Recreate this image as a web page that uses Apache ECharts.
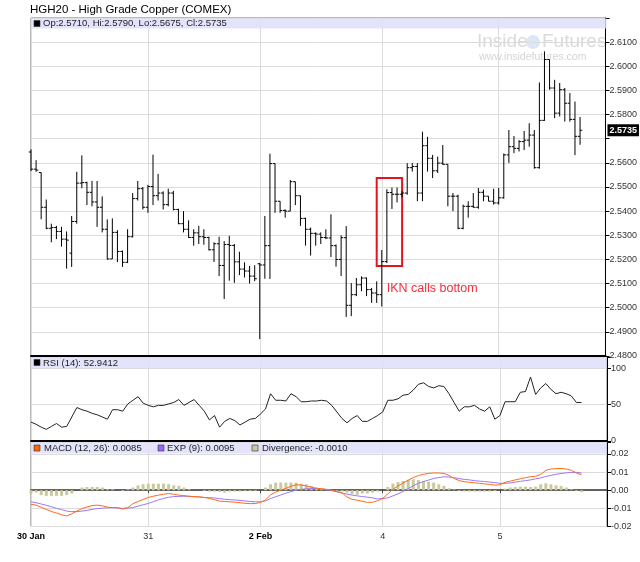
<!DOCTYPE html>
<html><head><meta charset="utf-8">
<script src="https://cdn.jsdelivr.net/npm/echarts@6/dist/echarts.min.js"></script>
<style>html,body{margin:0;padding:0;background:#fff}#c{width:640px;height:562px}</style>
</head><body><div id="c"></div>
<script>
const title = 'HGH20 - High Grade Copper (COMEX)';
const slotCount = 114;
const dayTicks = [[0,'30 Jan',true],[23,'31',false],[45,'2 Feb',true],[69,'4',false],[92,'5',false]];

const opens = [2.5645,2.5574,2.5560,2.5416,2.5329,2.5332,2.5316,2.5284,2.5226,2.5357,
2.5516,2.5518,2.5478,2.5438,2.5416,2.5325,2.5202,2.5312,2.5233,2.5188,
2.5294,2.5452,2.5493,2.5416,2.5502,2.5464,2.5475,2.5427,2.5475,2.5407,
2.5348,2.5325,2.5291,2.5310,2.5294,2.5291,2.5240,2.5265,2.5175,2.5262,
2.5258,2.5190,2.5160,2.5152,2.5131,2.5182,2.5177,2.5257,2.5597,2.5441,
2.5403,2.5400,2.5522,2.5464,2.5370,2.5325,2.5308,2.5305,2.5291,2.5289,
2.5257,2.5200,2.5290,2.5010,2.5054,2.5095,2.5123,2.5075,2.5061,2.5054,
2.5191,2.5477,2.5470,2.5470,2.5475,2.5580,2.5585,2.5475,2.5671,2.5619,
2.5567,2.5599,2.5594,2.5462,2.5462,2.5329,2.5420,2.5420,2.5416,2.5478,
2.5462,2.5441,2.5434,2.5455,2.5633,2.5667,2.5660,2.5688,2.5694,2.5715,
2.5580,2.5776,2.6028,2.5910,2.5806,2.5903,2.5847,2.5780,2.5710];
const highs = [2.5656,2.5611,2.5560,2.5448,2.5348,2.5339,2.5335,2.5316,2.5380,2.5563,
2.5631,2.5522,2.5525,2.5525,2.5461,2.5366,2.5370,2.5321,2.5237,2.5325,
2.5475,2.5525,2.5500,2.5509,2.5634,2.5554,2.5482,2.5493,2.5484,2.5410,
2.5400,2.5362,2.5325,2.5339,2.5325,2.5294,2.5271,2.5294,2.5276,2.5298,
2.5264,2.5232,2.5188,2.5173,2.5176,2.5186,2.5380,2.5638,2.5597,2.5441,
2.5407,2.5529,2.5522,2.5464,2.5373,2.5332,2.5312,2.5312,2.5325,2.5387,
2.5262,2.5300,2.5338,2.5102,2.5123,2.5130,2.5125,2.5082,2.5109,2.5239,
2.5491,2.5498,2.5498,2.5484,2.5599,2.5599,2.5599,2.5729,2.5708,2.5633,
2.5626,2.5674,2.5594,2.5475,2.5468,2.5427,2.5441,2.5475,2.5496,2.5489,
2.5462,2.5493,2.5496,2.5639,2.5736,2.5711,2.5694,2.5732,2.5764,2.5736,
2.5933,2.6062,2.6028,2.5944,2.5931,2.5910,2.5889,2.5854,2.5790];
const lows = [2.5566,2.5563,2.5366,2.5325,2.5271,2.5284,2.5253,2.5162,2.5169,2.5348,
2.5495,2.5425,2.5420,2.5335,2.5312,2.5199,2.5202,2.5189,2.5169,2.5185,
2.5291,2.5444,2.5407,2.5393,2.5425,2.5444,2.5407,2.5420,2.5403,2.5346,
2.5312,2.5289,2.5257,2.5264,2.5261,2.5237,2.5189,2.5131,2.5036,2.5112,
2.5103,2.5135,2.5125,2.5100,2.5110,2.4870,2.5120,2.5119,2.5393,2.5393,
2.5373,2.5400,2.5425,2.5339,2.5257,2.5216,2.5257,2.5264,2.5284,2.5210,
2.5170,2.5131,2.4962,2.4965,2.5048,2.5068,2.5048,2.5020,2.5020,2.5005,
2.5185,2.5409,2.5436,2.5457,2.5468,2.5564,2.5441,2.5441,2.5564,2.5537,
2.5558,2.5592,2.5420,2.5400,2.5325,2.5325,2.5373,2.5414,2.5410,2.5441,
2.5441,2.5427,2.5427,2.5452,2.5600,2.5640,2.5647,2.5653,2.5667,2.5576,
2.5576,2.5774,2.5903,2.5785,2.5792,2.5771,2.5771,2.5632,2.5675];
const closes = [2.5574,2.5570,2.5416,2.5329,2.5332,2.5316,2.5284,2.5280,2.5357,2.5516,
2.5518,2.5478,2.5438,2.5416,2.5325,2.5202,2.5312,2.5233,2.5188,2.5294,
2.5452,2.5493,2.5416,2.5502,2.5464,2.5475,2.5427,2.5475,2.5407,2.5348,
2.5325,2.5291,2.5310,2.5294,2.5291,2.5240,2.5265,2.5175,2.5262,2.5258,
2.5190,2.5160,2.5152,2.5131,2.5120,2.5177,2.5257,2.5597,2.5441,2.5403,
2.5400,2.5522,2.5464,2.5370,2.5325,2.5308,2.5305,2.5291,2.5289,2.5257,
2.5200,2.5290,2.5010,2.5054,2.5095,2.5123,2.5075,2.5061,2.5054,2.5191,
2.5477,2.5470,2.5470,2.5475,2.5580,2.5585,2.5475,2.5671,2.5619,2.5567,
2.5599,2.5594,2.5462,2.5462,2.5329,2.5420,2.5420,2.5416,2.5478,2.5462,
2.5441,2.5434,2.5455,2.5633,2.5667,2.5660,2.5688,2.5694,2.5715,2.5580,
2.5776,2.6028,2.5910,2.5806,2.5903,2.5847,2.5780,2.5710,2.5735];

const rsi = [26,23,19,16,20,24,19,20,33,46, 43,41,38,36,33,30,43,43,41,51,
56,61,52,49,47,49,49,51,53,57, 49,53,57,49,41,29,35,19,27,31,
28,22,26,30,31,37,44,65,56,56, 55,65,61,54,54,55,55,56,55,49,
40,31,25,31,35,27,27,31,35,40, 56,56,58,63,64,70,78,80,75,73,
76,75,65,53,41,47,47,49,44,41, 47,30,35,54,54,54,67,68,88,64,
73,79,71,65,67,65,62,53,52.9412];

const macd = [-0.0078,-0.0082,-0.0094,-0.0106,-0.0117,-0.0126,-0.0135,-0.0142,-0.0130,-0.0115,
-0.0101,-0.0092,-0.0085,-0.0082,-0.0086,-0.0093,-0.0096,-0.0096,-0.0104,-0.0096,
-0.0074,-0.0062,-0.0051,-0.0040,-0.0033,-0.0027,-0.0022,-0.0018,-0.0022,-0.0027,
-0.0030,-0.0033,-0.0035,-0.0036,-0.0040,-0.0045,-0.0052,-0.0060,-0.0062,-0.0064,
-0.0066,-0.0069,-0.0072,-0.0074,-0.0073,-0.0068,-0.0053,-0.0026,-0.0010,0.0001,
0.0010,0.0022,0.0030,0.0029,0.0023,0.0017,0.0011,0.0008,0.0005,0.0001,
-0.0008,-0.0013,-0.0038,-0.0050,-0.0055,-0.0061,-0.0067,-0.0066,-0.0058,-0.0045,
-0.0020,0.0005,0.0024,0.0040,0.0055,0.0070,0.0081,0.0088,0.0093,0.0095,
0.0095,0.0093,0.0082,0.0065,0.0053,0.0047,0.0044,0.0041,0.0038,0.0035,
0.0032,0.0028,0.0030,0.0044,0.0050,0.0057,0.0063,0.0069,0.0075,0.0077,
0.0087,0.0110,0.0117,0.0119,0.0120,0.0117,0.0110,0.0095,0.0085];
const expSignal = [-0.0064,-0.0069,-0.0076,-0.0083,-0.0091,-0.0100,-0.0107,-0.0115,-0.0118,-0.0118,
-0.0115,-0.0111,-0.0106,-0.0101,-0.0099,-0.0097,-0.0096,-0.0098,-0.0100,-0.0098,
-0.0096,-0.0088,-0.0080,-0.0073,-0.0063,-0.0053,-0.0045,-0.0039,-0.0035,-0.0034,
-0.0033,-0.0034,-0.0036,-0.0038,-0.0040,-0.0041,-0.0043,-0.0046,-0.0050,-0.0052,
-0.0054,-0.0056,-0.0059,-0.0062,-0.0064,-0.0064,-0.0059,-0.0046,-0.0036,-0.0026,
-0.0016,-0.0008,0.0001,0.0005,0.0008,0.0009,0.0009,0.0007,0.0003,-0.0002,
-0.0009,-0.0016,-0.0021,-0.0027,-0.0031,-0.0035,-0.0038,-0.0042,-0.0048,-0.0046,
-0.0042,-0.0031,-0.0020,-0.0006,0.0009,0.0025,0.0038,0.0048,0.0056,0.0065,
0.0070,0.0074,0.0073,0.0069,0.0064,0.0060,0.0057,0.0053,0.0050,0.0048,
0.0045,0.0042,0.0038,0.0038,0.0040,0.0045,0.0049,0.0053,0.0057,0.0063,
0.0068,0.0076,0.0082,0.0088,0.0092,0.0096,0.0098,0.0099,0.0095];
const divergence = [-0.0018,-0.0013,-0.0027,-0.0031,-0.0031,-0.0031,-0.0031,-0.0027,-0.0018,0.0000,
0.0015,0.0018,0.0018,0.0018,0.0015,0.0005,0.0005,0.0000,-0.0004,0.0005,
0.0015,0.0027,0.0033,0.0036,0.0036,0.0036,0.0036,0.0033,0.0027,0.0024,
0.0015,0.0005,0.0000,0.0000,-0.0004,-0.0007,-0.0007,-0.0009,-0.0013,-0.0007,
-0.0007,-0.0007,-0.0004,-0.0004,-0.0004,0.0000,0.0015,0.0033,0.0042,0.0042,
0.0042,0.0042,0.0042,0.0036,0.0033,0.0024,0.0015,0.0011,0.0005,0.0000,
-0.0004,-0.0007,-0.0013,-0.0022,-0.0025,-0.0018,-0.0018,-0.0013,-0.0007,0.0000,
0.0018,0.0036,0.0045,0.0051,0.0058,0.0060,0.0056,0.0051,0.0047,0.0042,
0.0033,0.0024,0.0011,0.0004,-0.0004,-0.0007,-0.0007,-0.0007,-0.0007,-0.0007,
-0.0007,-0.0004,0.0000,0.0009,0.0015,0.0018,0.0020,0.0020,0.0018,0.0020,
0.0033,0.0038,0.0033,0.0027,0.0024,0.0015,0.0005,-0.0004,-0.0010];

const annotation = {text:'IKN calls bottom', fromSlot:68, toSlot:73, top:2.5537, bottom:2.5173};

const slots = Array.from({length: slotCount}, (_, i) => String(i));
const tickIdx = dayTicks.map(d => d[0]);
const isTick = (i) => tickIdx.indexOf(i) >= 0;
const last = closes.length - 1;
const FONT = 'Liberation Sans, Arial, sans-serif';

function xAxisFor(gi, showLabels) {
  return {
    type: 'category', gridIndex: gi, data: slots, boundaryGap: false,
    axisLine: {show: true, lineStyle: {color: showLabels ? '#333' : '#000', width: showLabels ? 1.5 : 2}},
    axisTick: {show: showLabels, interval: isTick, length: 3, lineStyle: {color: '#444'}},
    axisLabel: {
      show: showLabels, interval: isTick, margin: 6, fontSize: 9, color: '#333', fontFamily: FONT,
      formatter: function (v) {
        const d = dayTicks.find(t => String(t[0]) === v);
        if (!d) return '';
        return d[2] ? '{b|' + d[1] + '}' : d[1];
      },
      rich: {b: {fontWeight: 'bold', fontSize: 9, color: '#000', fontFamily: FONT}}
    },
    splitLine: {show: true, interval: isTick, lineStyle: {color: '#dcdcdc', width: 1}}
  };
}

const ohlcData = opens.map((o, i) => [i, o, highs[i], lows[i], closes[i]]);

function renderOHLC(params, api) {
  const x = api.value(0);
  const o = api.coord([x, api.value(1)]);
  const h = api.coord([x, api.value(2)]);
  const l = api.coord([x, api.value(3)]);
  const c = api.coord([x, api.value(4)]);
  const st = {stroke: '#000', lineWidth: 1};
  const w = 2.2;
  return {type: 'group', children: [
    {type: 'line', shape: {x1: h[0], y1: h[1], x2: l[0], y2: l[1]}, style: st},
    {type: 'line', shape: {x1: o[0] - w, y1: o[1], x2: o[0], y2: o[1]}, style: st},
    {type: 'line', shape: {x1: c[0], y1: c[1], x2: c[0] + w, y2: c[1]}, style: st}
  ]};
}

const chart = echarts.init(document.getElementById('c'), null, {renderer: 'canvas'});

const bandFill = 'rgba(222,222,250,0.85)';
const txt = (x, y, s, size, color, extra) => Object.assign({
  type: 'text', x: x, y: y, z: 20,
  style: {text: s, fontSize: size, fill: color, fontFamily: FONT, verticalAlign: 'middle', align: 'left'}
}, extra || {});
const sq = (x, y, fill) => ({type: 'rect', z: 20, shape: {x: x, y: y, width: 6, height: 6},
  style: {fill: fill, stroke: '#333', lineWidth: 0.6}});

const option = {
  animation: false,
  textStyle: {fontFamily: FONT},
  grid: [
    {left: 31, right: 33, top: 18, height: 338, show: true, borderColor: '#777', borderWidth: 1},
    {left: 31, right: 33, top: 357, height: 84, show: true, borderColor: '#777', borderWidth: 1},
    {left: 31, right: 33, top: 442, height: 84.5, show: true, borderColor: '#777', borderWidth: 1}
  ],
  xAxis: [xAxisFor(0, false), xAxisFor(1, false), xAxisFor(2, true)],
  yAxis: [
    {type: 'value', gridIndex: 0, position: 'right', min: 2.48, max: 2.62, interval: 0.01,
      axisLine: {show: true, lineStyle: {color: '#000'}},
      axisTick: {show: true, length: 4, lineStyle: {color: '#000'}},
      axisLabel: {fontSize: 9, color: '#333', margin: 4,
        formatter: v => (v > 2.615 || Math.abs(v - 2.57) < 0.0005) ? '' : v.toFixed(4)},
      splitLine: {lineStyle: {color: '#dcdcdc'}}},
    {type: 'value', gridIndex: 1, position: 'right', min: 0, max: 115.5, interval: 50,
      axisLine: {show: true, lineStyle: {color: '#000'}},
      axisTick: {show: true, length: 4, lineStyle: {color: '#000'}},
      axisLabel: {fontSize: 9, color: '#333', margin: 4,
        formatter: v => (v === 0 || v === 50 || v === 100) ? String(v) : ''},
      splitLine: {lineStyle: {color: '#dcdcdc'}}},
    {type: 'value', gridIndex: 2, position: 'right', min: -0.02, max: 0.0266, interval: 0.01,
      axisLine: {show: true, lineStyle: {color: '#000'}},
      axisTick: {show: true, length: 4, lineStyle: {color: '#000'}},
      axisLabel: {fontSize: 9, color: '#333', margin: 4,
        formatter: v => v > 0.021 ? '' : (Math.abs(v) < 1e-9 ? '0.00' : v.toFixed(2))},
      splitLine: {lineStyle: {color: '#dcdcdc'}}}
  ],
  series: [
    {type: 'custom', name: 'OHLC', xAxisIndex: 0, yAxisIndex: 0, data: ohlcData,
      encode: {x: 0, y: [1, 2, 3, 4]}, renderItem: renderOHLC, silent: true, z: 5,
      markLine: {symbol: 'none', silent: true, animation: false, precision: 4,
        lineStyle: {color: 'rgba(0,0,0,0)', width: 0},
        data: [{yAxis: closes[last]}],
        label: {show: true, position: 'end', distance: 2, formatter: p => Number(p.value).toFixed(4),
          backgroundColor: '#000', color: '#fff', fontWeight: 'bold', fontSize: 9, padding: [2, 2, 1, 2], fontFamily: FONT}},
      markArea: {silent: true,
        itemStyle: {color: 'rgba(0,0,0,0)', borderColor: '#e3141e', borderWidth: 2},
        label: {show: true, position: [11, 111], align: 'left', verticalAlign: 'middle',
          formatter: annotation.text, color: '#f0303c', fontSize: 12.5, fontFamily: FONT},
        data: [[{xAxis: slots[annotation.fromSlot], yAxis: annotation.top},
                {xAxis: slots[annotation.toSlot], yAxis: annotation.bottom}]]}},
    {type: 'line', name: 'RSI', xAxisIndex: 1, yAxisIndex: 1, data: rsi, showSymbol: false, silent: true,
      lineStyle: {color: '#222', width: 1}},
    {type: 'bar', name: 'Divergence', xAxisIndex: 2, yAxisIndex: 2, data: divergence, barWidth: 3, silent: true,
      itemStyle: {color: '#c9c99c'}},
    {type: 'line', name: 'EXP', xAxisIndex: 2, yAxisIndex: 2, data: expSignal, showSymbol: false, silent: true,
      lineStyle: {color: '#9a78f5', width: 1}, z: 3},
    {type: 'line', name: 'MACD', xAxisIndex: 2, yAxisIndex: 2, data: macd, showSymbol: false, silent: true,
      lineStyle: {color: '#ff6a1a', width: 1}, z: 4}
  ],
  graphic: [
    txt(30, 10, title, 11.5, '#000'),
    {type: 'rect', z: 1, shape: {x: 31.5, y: 18.5, width: 575, height: 10}, style: {fill: bandFill}},
    {type: 'rect', z: 1, shape: {x: 31.5, y: 357.5, width: 575, height: 10.5}, style: {fill: bandFill}},
    {type: 'rect', z: 1, shape: {x: 31.5, y: 442.5, width: 575, height: 11}, style: {fill: bandFill}},
    sq(34, 20.5, '#000'),
    txt(43, 23.5, 'Op:' + opens[last].toFixed(4) + ', Hi:' + highs[last].toFixed(4) + ', Lo:' + lows[last].toFixed(4) + ', Cl:' + closes[last].toFixed(4), 9.5, '#222'),
    sq(34, 359.5, '#000'),
    txt(43, 363, 'RSI (14): ' + rsi[last].toFixed(4), 9.5, '#222'),
    sq(34, 445, '#ff6600'),
    txt(44, 448.5, 'MACD (12, 26): ' + macd[last].toFixed(4), 9.5, '#222'),
    sq(158, 445, '#9966ff'),
    txt(167, 448.5, 'EXP (9): ' + expSignal[last].toFixed(4), 9.5, '#222'),
    sq(252, 445, '#c9c99c'),
    txt(262, 448.5, 'Divergence: ' + divergence[last].toFixed(4), 9.5, '#222'),
    // watermark
    txt(477, 42, 'Inside', 19, '#dadada', {z: 0}),
    {type: 'circle', z: 0, shape: {cx: 533, cy: 42, r: 7}, style: {fill: '#dbe7f4'}},
    txt(542, 42, 'Futures', 19, '#dadada', {z: 0}),
    txt(479, 57, 'www.insidefutures.com', 10.5, '#d4d4d4', {z: 0})
  ]
};
chart.setOption(option);
</script>
</body></html>
